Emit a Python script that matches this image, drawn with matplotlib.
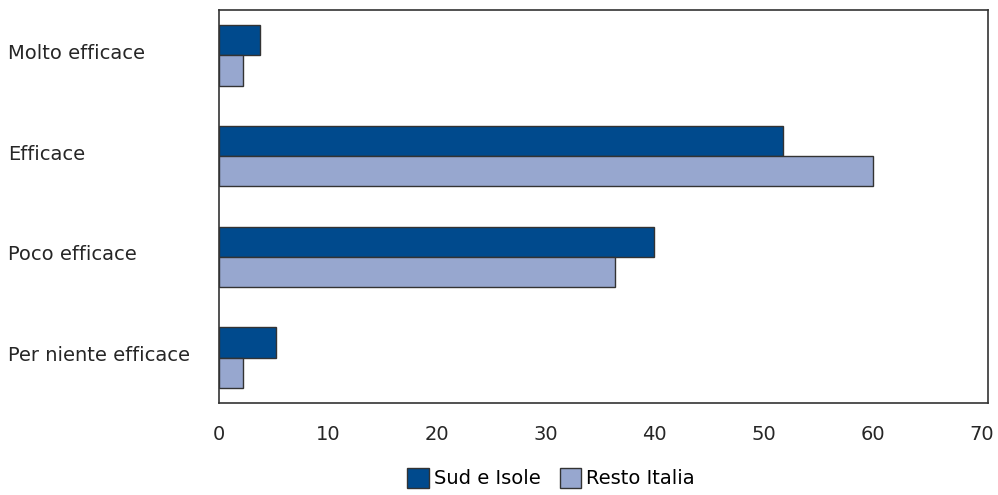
import numpy as np
import matplotlib
matplotlib.use("Agg")
import matplotlib.pyplot as plt
import matplotlib.transforms as mtransforms

# data (percent)
categories = ["Molto efficace", "Efficace", "Poco efficace", "Per niente efficace"]
sud_isole = [3.8, 51.8, 39.9, 5.2]
resto_italia = [2.2, 60.0, 36.4, 2.2]
series_names = ["Sud e Isole", "Resto Italia"]
x_ticks = [0, 10, 20, 30, 40, 50, 60, 70]

DARK = "#004a8d"
LIGHT = "#97a7cf"
EDGE = "#333333"
TEXT = "#262626"

plt.rcParams["font.family"] = ["DejaVu Sans"]

fig = plt.figure(figsize=(9.98, 4.95), dpi=100)
ax = fig.add_axes([0.2194, 0.1859, 0.7706, 0.7939])

y = np.arange(len(categories))
h = 0.3
ax.barh(y - h / 2, sud_isole, height=h, color=DARK, edgecolor=EDGE,
        linewidth=1, label=series_names[0])
ax.barh(y + h / 2, resto_italia, height=h, color=LIGHT, edgecolor=EDGE,
        linewidth=1, label=series_names[1])

ax.set_ylim(3.45, -0.45)
ax.set_xlim(0, 70.6)
ax.set_xticks(x_ticks)
ax.set_xticklabels([str(t) for t in x_ticks], fontsize=14, color=TEXT)
ax.set_yticks(y)
ax.set_yticklabels(categories, fontsize=14, color=TEXT, ha="left")
ax.tick_params(axis="x", length=0, pad=16)
ax.tick_params(axis="y", length=0, pad=152)

# category labels sit a little above the group centre in the original
shift = mtransforms.ScaledTranslation(0, 4 / 100, fig.dpi_scale_trans)
for lbl in ax.get_yticklabels():
    lbl.set_transform(lbl.get_transform() + shift)

for s in ax.spines.values():
    s.set_color("#333333")
    s.set_linewidth(1.2)

fig.legend(loc="center", bbox_to_anchor=(551 / 998, 1 - 478 / 495), ncol=2,
           frameon=False, fontsize=14, handlelength=1.1, handleheight=1.2,
           handletextpad=0.25, columnspacing=1.0, borderaxespad=0)

fig.savefig("out.png", dpi=100)
